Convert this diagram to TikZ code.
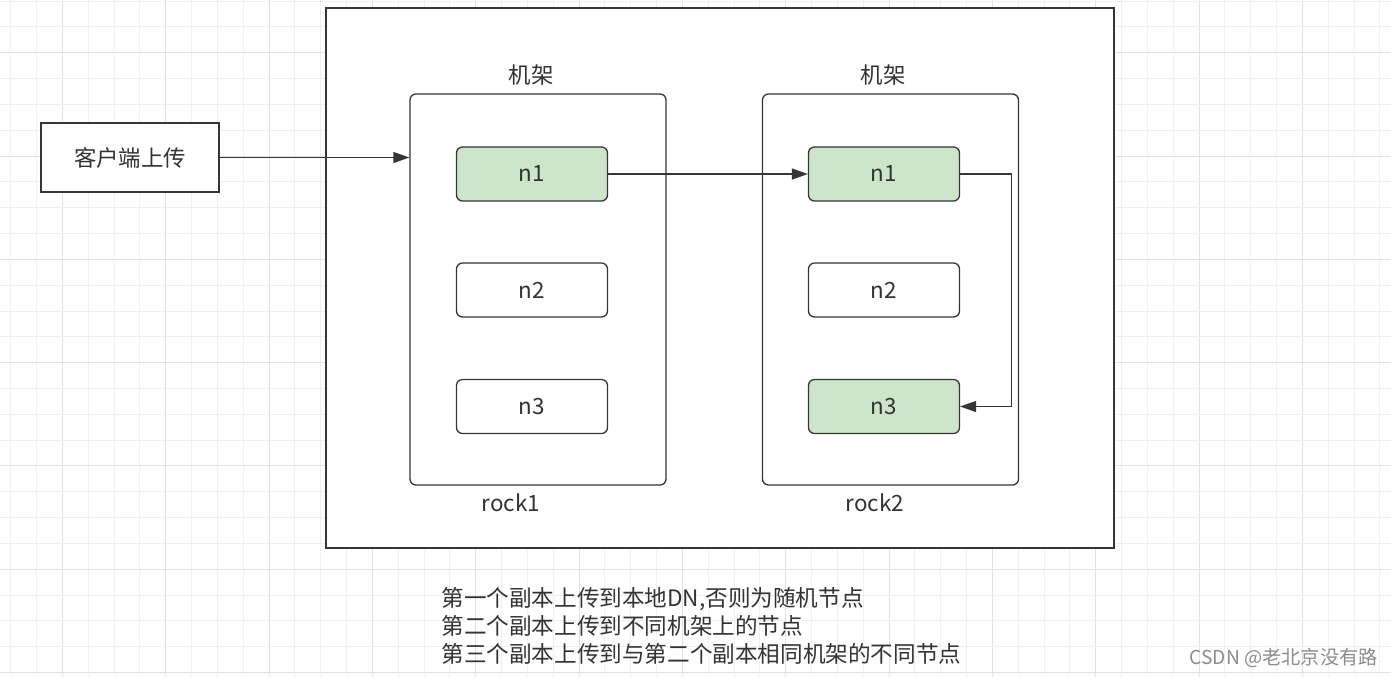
\documentclass[tikz,border=0pt]{standalone}
\usepackage{fontspec}
\setmainfont{Noto Sans CJK SC}
\usetikzlibrary{arrows.meta}
\definecolor{xian}{RGB}{54,54,54}
\definecolor{wenzi}{RGB}{51,51,51}
\definecolor{lv}{RGB}{205,230,203}
\definecolor{gexi}{RGB}{240,240,240}
\definecolor{gecu}{RGB}{226,226,226}
\tikzset{
  kuang/.style={draw=xian, line width=0.65pt, fill=white, inner sep=0pt},
  jijia/.style={kuang, rounded corners=3pt, minimum width=128pt, minimum height=195.5pt},
  jiedian/.style={kuang, rounded corners=3pt, minimum width=75.5pt, minimum height=27pt, text=wenzi},
  lvdian/.style={jiedian, fill=lv},
  biaoqian/.style={text=wenzi, inner sep=0pt},
  jiantou/.style={draw=xian, line width=0.65pt, -{Triangle[length=8pt, width=5.5pt]}}
}
\begin{document}
\begin{tikzpicture}[x=0.5pt, y=-0.5pt, font=\fontsize{11.2}{13}\selectfont]
\useasboundingbox (0,0) rectangle (1391,677);
\fill[white] (0,0) rectangle (1391,677);
% 网格
\foreach \i in {-2,...,51} {
  \pgfmathtruncatemacro{\m}{mod(\i+100,4)}
  \ifnum\m=0 \def\gs{gecu}\else\def\gs{gexi}\fi
  \draw[\gs, line width=0.5pt] ({62.5+25.83*\i},0) -- ({62.5+25.83*\i},677);
}
\foreach \j in {-2,...,24} {
  \pgfmathtruncatemacro{\m}{mod(\j+100,4)}
  \ifnum\m=0 \def\gs{gecu}\else\def\gs{gexi}\fi
  \draw[\gs, line width=0.5pt] (0,{52.7+25.83*\j}) -- (1391,{52.7+25.83*\j});
}
% 外框
\node[kuang, minimum width=394pt, minimum height=270pt] (waikuang) at (720,278) {};
% 客户端
\node[kuang, minimum width=89pt, minimum height=34.5pt, text=wenzi] (kehu) at (130,157.5) {客户端上传};
% 机架
\node[jijia] (rock1) at (538,289.5) {};
\node[jijia] (rock2) at (890.5,289.5) {};
\node[biaoqian] (jijia1) at (531,75) {机架};
\node[biaoqian] (jijia2) at (883,75) {机架};
\node[biaoqian] (ming1) at (511,503) {rock1};
\node[biaoqian] (ming2) at (875,503) {rock2};
% 节点
\node[lvdian] (r1n1) at (532,174) {n1};
\node[jiedian] (r1n2) at (532,290) {n2};
\node[jiedian] (r1n3) at (532,406.5) {n3};
\node[lvdian] (r2n1) at (884,174) {n1};
\node[jiedian] (r2n2) at (884,290) {n2};
\node[lvdian] (r2n3) at (884,406.5) {n3};
% 箭头
\draw[jiantou] (kehu.east) -- (kehu.east -| rock1.west);
\draw[jiantou] (r1n1.east) -- (r2n1.west);
\draw[jiantou] (r2n1.east) -- ++(51,0) |- (r2n3.east);
% 说明
\node[biaoqian, anchor=west, align=left, font=\fontsize{11.3}{14}\selectfont] (shuoming) at (441,626) {第一个副本上传到本地DN,否则为随机节点\\第二个副本上传到不同机架上的节点\\第三个副本上传到与第二个副本相同机架的不同节点};
\node[anchor=east, inner sep=0pt, text={rgb,255:red,140;green,140;blue,140}, font=\fontsize{9.6}{11}\selectfont] (shuiyin) at (1378,658) {CSDN @老北京没有路};
\end{tikzpicture}
\end{document}
